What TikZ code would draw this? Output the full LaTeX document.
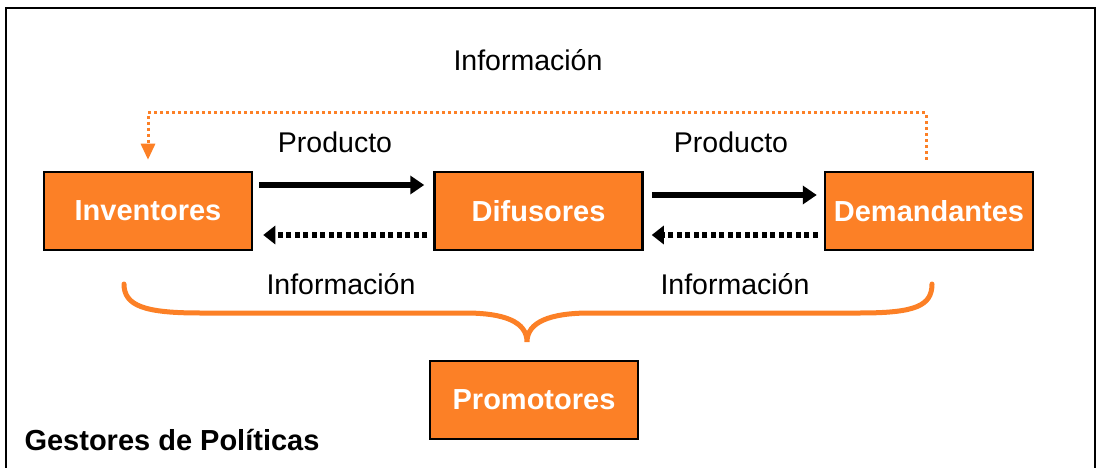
\documentclass[tikz,border=0pt]{standalone}
\usepackage{fontspec}
\setmainfont{Liberation Sans}
\usetikzlibrary{arrows.meta,positioning,calc}
\definecolor{naranja}{RGB}{252,128,38}

\begin{document}
\begin{tikzpicture}[
  x=1pt, y=-1pt,
  box/.style={
    draw, line width=2.5pt, fill=naranja, text=white, align=center,
    minimum width=208pt, minimum height=78pt, inner sep=0pt,
    font=\fontsize{29}{33}\selectfont\bfseries
  },
  label/.style={font=\fontsize{28.5}{32}\selectfont},
  prod/.style={-{Triangle[length=14pt,width=18pt]}, line width=6.5pt},
  info/.style={-{Triangle[length=12pt,width=18pt]}, line width=6.5pt,
    dash pattern=on 5pt off 3.5pt},
  loop/.style={-{Triangle[length=16pt,width=14pt]}, naranja, line width=3pt,
    dash pattern=on 3pt off 3pt},
  brace/.style={naranja, line width=5pt, line cap=round}
]

\useasboundingbox (0,0) rectangle (1098,468);
\draw[line width=2pt] (6,470) -- (6,8) -- (1095,8) -- (1095,470);

\node[box] (inv) at (148,211) {Inventores};
\node[box, right=180pt of inv] (dif) {Difusores};
\node[box, right=180pt of dif] (dem) {Demandantes};
\node[box] (prom) at (534,400) {Promotores};

\node[label] (infotop) at (528,60) {Información};
\node[label] (prod1) at (335,142) {Producto};
\node[label] (prod2) at (731,142) {Producto};
\node[label] (info1) at (341,284) {Información};
\node[label] (info2) at (735,284) {Información};
\node[anchor=west, font=\fontsize{29}{33}\selectfont\bfseries] (gest) at (21,440) {Gestores de Políticas};

\draw[prod] ([shift={(6pt,26pt)}]inv.east) -- ([shift={(-9pt,26pt)}]dif.west);
\draw[prod] ([shift={(8pt,16pt)}]dif.east) -- ([shift={(-7pt,16pt)}]dem.west);
\draw[info] ([shift={(-6pt,-24pt)}]dif.west) -- ([shift={(10pt,-24pt)}]inv.east);
\draw[info] ([shift={(-6pt,-24pt)}]dem.west) -- ([shift={(8pt,-24pt)}]dif.east);
\draw[loop] ([shift={(-3pt,11pt)}]dem.north) -- ++(0,-47) -| ([yshift=11pt]inv.north);

\coordinate (bl) at (124,284);
\coordinate (br) at (932,284);
\coordinate (tip) at (527,342);
\draw[brace] (bl) .. controls (124,306) and (145,313) .. (200,313) -- (465,313)
  .. controls (505,313) and (527,322) .. (tip)
  .. controls (527,322) and (550,313) .. (590,313) -- (860,313)
  .. controls (915,313) and (932,306) .. (br);

\end{tikzpicture}
\end{document}
